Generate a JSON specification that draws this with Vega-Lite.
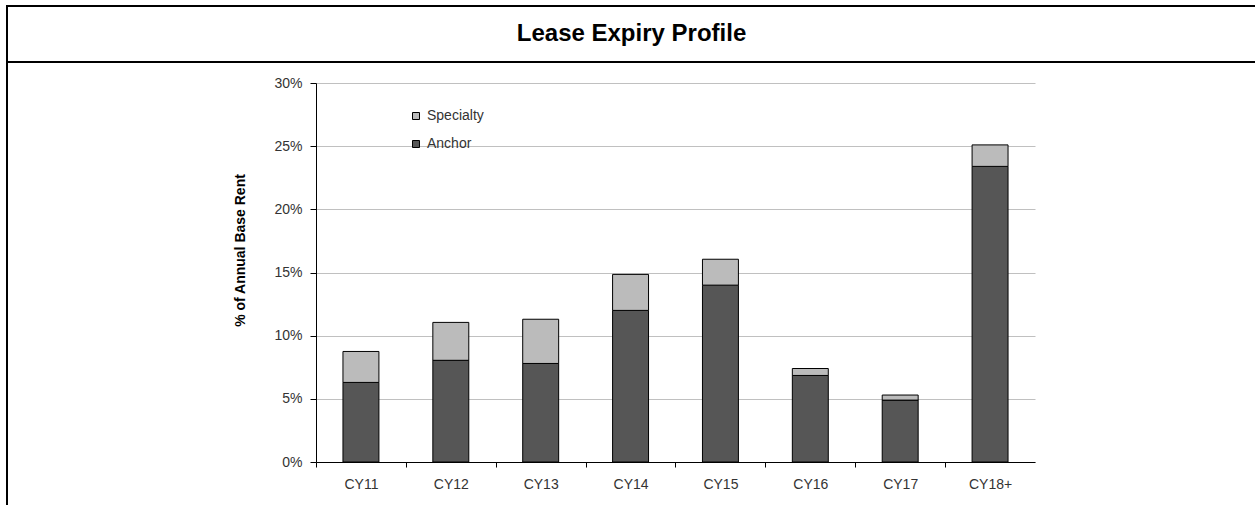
{
  "$schema": "https://vega.github.io/schema/vega-lite/v6.json",
  "padding": {"left": 6, "top": 5, "right": 0, "bottom": 0},
  "background": "white",
  "config": {
    "font": "Liberation Sans",
    "view": {"stroke": null},
    "concat": {"spacing": 0}
  },
  "bounds": "flush",
  "spacing": 0,
  "resolve": {"legend": {"color": "independent"}, "scale": {"color": "independent"}},
  "hconcat": [
    {
      "width": 2,
      "height": 500,
      "view": {"fill": "black"},
      "data": {"values": []},
      "mark": {"type": "text"},
      "encoding": {"text": {"field": "label", "type": "nominal"}}
    },
    {
      "bounds": "flush",
      "spacing": 0,
      "resolve": {"legend": {"color": "independent"}, "scale": {"color": "independent"}},
      "vconcat": [
        {
          "width": 1247,
          "height": 2,
          "view": {"fill": "black"},
          "data": {"values": []},
          "mark": {"type": "text"},
          "encoding": {"text": {"field": "label", "type": "nominal"}}
        },
        {
          "width": 1247,
          "height": 54,
          "data": {"values": [{"label": "Lease Expiry Profile"}]},
          "mark": {"type": "text", "fontSize": 24, "fontWeight": "bold", "color": "black", "font": "Liberation Sans"},
          "encoding": {"text": {"field": "label", "type": "nominal"}}
        },
        {
          "width": 1247,
          "height": 2,
          "view": {"fill": "black"},
          "data": {"values": []},
          "mark": {"type": "text"},
          "encoding": {"text": {"field": "label", "type": "nominal"}}
        },
        {
          "bounds": "flush",
          "spacing": 307,
          "resolve": {"legend": {"color": "independent"}, "scale": {"color": "independent"}},
          "hconcat": [
            {
              "width": 1,
              "height": 1,
              "data": {"values": []},
              "mark": {"type": "text"},
              "encoding": {"text": {"field": "label", "type": "nominal"}}
            },
            {
              "bounds": "flush",
              "spacing": 19,
              "resolve": {"legend": {"color": "independent"}, "scale": {"color": "independent"}},
              "vconcat": [
                {
                  "width": 1,
                  "height": 1,
                  "data": {"values": []},
                  "mark": {"type": "text"},
                  "encoding": {"text": {"field": "label", "type": "nominal"}}
                },
                {
                  "width": 719,
                  "height": 379,
                  "data": {
                    "values": [
                      {"year": "CY11", "series": "Anchor", "pct": 6.3},
                      {"year": "CY11", "series": "Specialty", "pct": 2.45},
                      {"year": "CY12", "series": "Anchor", "pct": 8.05},
                      {"year": "CY12", "series": "Specialty", "pct": 3.0},
                      {"year": "CY13", "series": "Anchor", "pct": 7.8},
                      {"year": "CY13", "series": "Specialty", "pct": 3.5},
                      {"year": "CY14", "series": "Anchor", "pct": 12.0},
                      {"year": "CY14", "series": "Specialty", "pct": 2.85},
                      {"year": "CY15", "series": "Anchor", "pct": 14.0},
                      {"year": "CY15", "series": "Specialty", "pct": 2.05},
                      {"year": "CY16", "series": "Anchor", "pct": 6.85},
                      {"year": "CY16", "series": "Specialty", "pct": 0.55},
                      {"year": "CY17", "series": "Anchor", "pct": 4.9},
                      {"year": "CY17", "series": "Specialty", "pct": 0.4},
                      {"year": "CY18+", "series": "Anchor", "pct": 23.4},
                      {"year": "CY18+", "series": "Specialty", "pct": 1.7}
                    ]
                  },
                  "mark": {"type": "bar", "stroke": "black", "strokeWidth": 1},
                  "encoding": {
                    "x": {
                      "field": "year",
                      "type": "nominal",
                      "sort": ["CY11", "CY12", "CY13", "CY14", "CY15", "CY16", "CY17", "CY18+"],
                      "scale": {"paddingInner": 0.6, "paddingOuter": 0.3},
                      "axis": {
                        "title": null,
                        "labelAngle": 0,
                        "labelFontSize": 14,
                        "labelColor": "#333333",
                        "labelPadding": 10,
                        "ticks": true,
                        "tickOffset": -44.94,
                        "labelOffset": 44.94,
                        "tickSize": 5,
                        "tickColor": "black",
                        "tickWidth": 1,
                        "domainColor": "black",
                        "grid": false
                      }
                    },
                    "y": {
                      "field": "pct",
                      "type": "quantitative",
                      "stack": "zero",
                      "scale": {"domain": [0, 30], "nice": false},
                      "axis": {
                        "title": "% of Annual Base Rent",
                        "titleFontSize": 14,
                        "titleFontWeight": "bold",
                        "titleColor": "black",
                        "titlePadding": 26,
                        "titleY": 167,
                        "values": [0, 5, 10, 15, 20, 25, 30],
                        "labelExpr": "datum.value + '%'",
                        "labelFontSize": 14,
                        "labelColor": "#333333",
                        "labelPadding": 8,
                        "tickSize": 6,
                        "tickColor": "black",
                        "domainColor": "black",
                        "gridColor": "#c0c0c0",
                        "gridWidth": 1
                      }
                    },
                    "color": {
                      "field": "series",
                      "type": "nominal",
                      "scale": {"domain": ["Specialty", "Anchor"], "range": ["#bbbbbb", "#565656"]},
                      "legend": {
                        "title": null,
                        "orient": "none",
                        "legendX": 93,
                        "legendY": 26,
                        "padding": 0,
                        "symbolType": "square",
                        "symbolSize": 49,
                        "symbolStrokeColor": "black",
                        "symbolStrokeWidth": 1,
                        "labelFontSize": 14,
                        "labelColor": "#333333",
                        "labelOffset": 4,
                        "rowPadding": 14
                      }
                    },
                    "order": {"field": "series", "sort": "ascending"}
                  }
                }
              ]
            }
          ]
        }
      ]
    }
  ]
}
